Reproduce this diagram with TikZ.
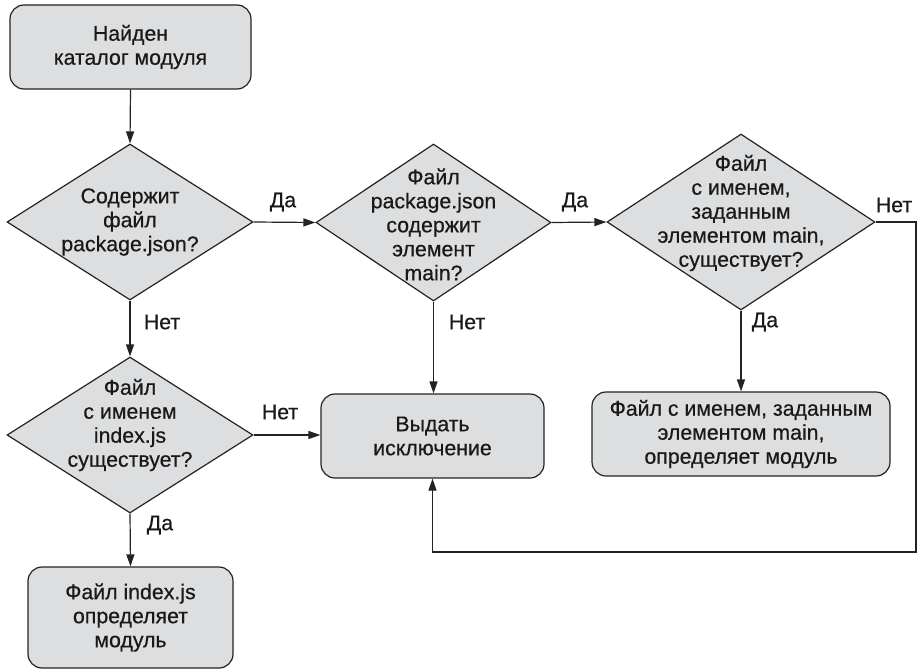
\documentclass[tikz,border=0pt]{standalone}
\usepackage{fontspec}
\setmainfont{Liberation Sans}[BoldFont=Liberation Sans, BoldFeatures={FakeBold=0.5}]
\usetikzlibrary{shapes.geometric,arrows.meta}
\definecolor{boxfill}{RGB}{221,222,224}
\definecolor{ink}{RGB}{35,35,35}
\definecolor{txt}{RGB}{25,25,25}
\begin{document}
\begin{tikzpicture}[x=1pt,y=-1pt,
  every node/.style={font=\fontsize{21.3}{24}\selectfont\bfseries, text=txt},
  proc/.style={draw=ink, fill=boxfill, line width=1.2pt, rounded corners=14pt, align=center, inner sep=0pt},
  dia/.style={draw=ink, fill=boxfill, line width=1.2pt, diamond, inner sep=0pt},
  dtext/.style={align=center, inner sep=0pt},
  conn/.style={draw=ink, line width=1.2pt, -{Triangle[length=12pt,width=8pt]}},
  lbl/.style={inner sep=0pt},
]
\useasboundingbox (0,0) rectangle (917,669);

% process boxes
\node[proc, minimum width=241pt, minimum height=84pt] (start) at (130.5,47) {Найден\\каталог модуля};
\node[proc, minimum width=223pt, minimum height=84pt] (exc) at (432.5,436) {Выдать\\исключение};
\node[proc, minimum width=298pt, minimum height=84pt] (mainbox) at (741,434) {Файл с именем, заданным\\элементом main,\\определяет модуль};
\node[proc, minimum width=205pt, minimum height=101pt] (idx) at (130.5,617.5) {Файл index.js\\определяет\\модуль};

% decisions
\node[dia, minimum width=246pt, minimum height=156pt] (d1) at (130,222) {};
\node[dtext] (d1t) at (130,222) {Содержит\\файл\\package.json?};
\node[dia, minimum width=235pt, minimum height=157pt] (d2) at (433.5,222.5) {};
\node[dtext] (d2t) at (433.5,224.5) {Файл\\package.json\\содержит\\элемент\\main?};
\node[dia, minimum width=268pt, minimum height=176pt] (d3) at (741,222) {};
\node[dtext] (d3t) at (741,213) {Файл\\с именем,\\заданным\\элементом main,\\существует?};
\node[dia, minimum width=246pt, minimum height=156pt] (d4) at (130,435) {};
\node[dtext] (d4t) at (130,425) {Файл\\с именем\\index.js\\существует?};

% connectors
\draw[conn] (start.south) -- (d1.north);
\draw[conn] (d1.east) -- (d2.west);
\draw[conn] (d2.east) -- (d3.west);
\draw[conn] (d1.south) -- (d4.north);
\draw[conn] (d2.south) -- (d2.south |- exc.north);
\draw[conn] (d3.south) -- (d3.south |- mainbox.north);
\draw[conn] (d4.east) -- (d4.east -| exc.west);
\draw[conn] (d4.south) -- (idx.north);
\coordinate (fb) at (916,552);
\draw[conn] (d3.east) -| (fb) -| (exc.south);

% labels
\node[lbl] (l1) at (283,202) {Да};
\node[lbl] (l2) at (575,202) {Да};
\node[lbl] (l3) at (894,205) {Нет};
\node[lbl] (l4) at (162,322) {Нет};
\node[lbl] (l5) at (467,322) {Нет};
\node[lbl] (l6) at (765,322) {Да};
\node[lbl] (l7) at (280,412) {Нет};
\node[lbl] (l8) at (160,525) {Да};
\end{tikzpicture}
\end{document}
